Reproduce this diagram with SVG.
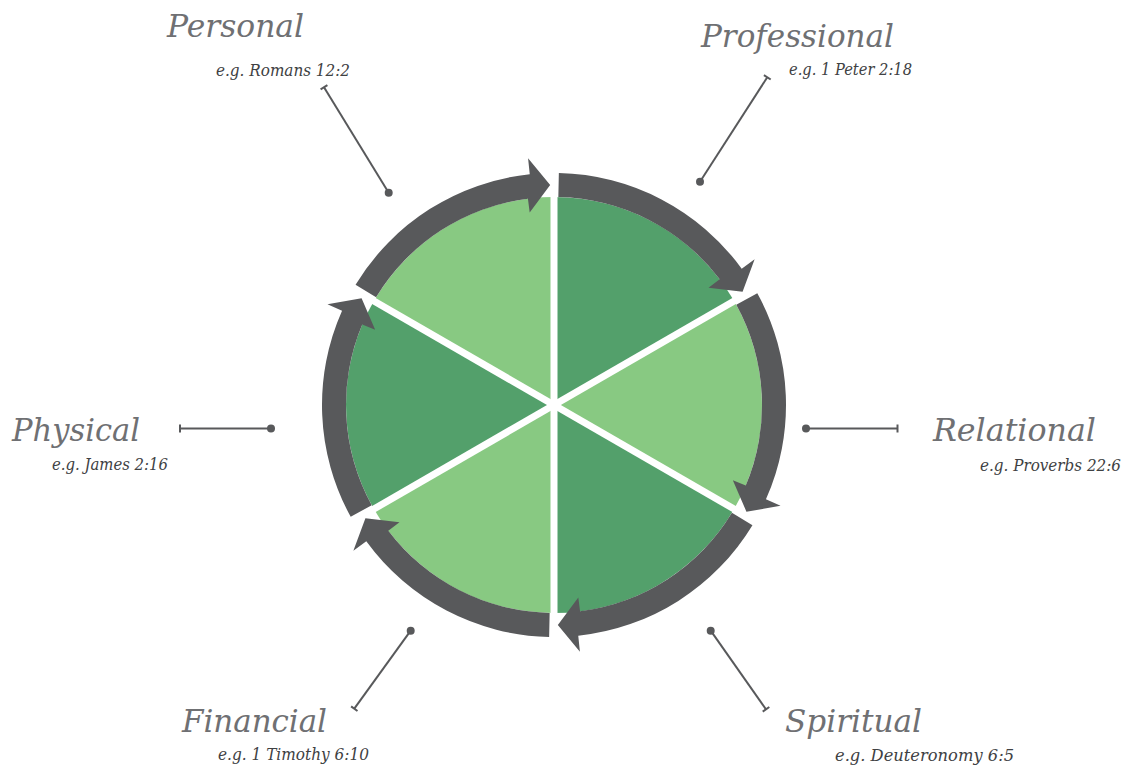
<svg xmlns="http://www.w3.org/2000/svg" xmlns:xlink="http://www.w3.org/1999/xlink" width="1130" height="765" viewBox="0 0 1130 765">
<style>
.light{fill:#88c982}
.dark{fill:#53a06b}
.ring{fill:#58595b}
.gap{stroke:#ffffff;stroke-width:7;stroke-linecap:butt}
.lead{stroke:#58595b;stroke-width:2;fill:none}
.dot{fill:#58595b}
.title{font-family:"DejaVu Serif","Liberation Serif",serif;font-style:italic;font-size:32px;fill:#6f7073}
.sub{font-family:"DejaVu Serif","Liberation Serif",serif;font-style:italic;font-size:17px;fill:#404143}
</style>
<defs>
<path id="sLight" d="M554 405 L554 197 A208 208 0 0 0 373.87 301 Z"/>
<path id="sDark" d="M554 405 L554 197 A208 208 0 0 1 734.13 301 Z"/>
<path id="arc" d="M355.55 284.82 A232 232 0 0 1 529.75 174.27 L528.08 158.36 L550.16 185.03 L529.69 212.53 L527.93 198.64 A208 208 0 0 0 376.08 297.26 Z"/>
</defs>
<rect width="1130" height="765" fill="#ffffff"/>
<g id="wheel">
<g id="sectors">
<use xlink:href="#sLight" class="light"/>
<use xlink:href="#sLight" class="light" transform="rotate(120 554 405)"/>
<use xlink:href="#sLight" class="light" transform="rotate(240 554 405)"/>
<use xlink:href="#sDark" class="dark"/>
<use xlink:href="#sDark" class="dark" transform="rotate(120 554 405)"/>
<use xlink:href="#sDark" class="dark" transform="rotate(240 554 405)"/>
</g>
<g id="gaps">
<line class="gap" x1="554" y1="195" x2="554" y2="615"/>
<line class="gap" x1="735.87" y1="300" x2="372.13" y2="510"/>
<line class="gap" x1="372.13" y1="300" x2="735.87" y2="510"/>
</g>
<g id="cycle-arrows">
<use xlink:href="#arc" class="ring"/>
<use xlink:href="#arc" class="ring" transform="rotate(60 554 405)"/>
<use xlink:href="#arc" class="ring" transform="rotate(120 554 405)"/>
<use xlink:href="#arc" class="ring" transform="rotate(180 554 405)"/>
<use xlink:href="#arc" class="ring" transform="rotate(240 554 405)"/>
<use xlink:href="#arc" class="ring" transform="rotate(300 554 405)"/>
</g>
</g>
<g id="connectors">
<line class="lead" x1="324" y1="87.3" x2="388.7" y2="192.7"/>
<line class="lead" x1="320.6" y1="89.4" x2="327.4" y2="85.2"/>
<circle class="dot" cx="388.7" cy="192.7" r="4"/>
<line class="lead" x1="767.3" y1="77.3" x2="700" y2="181.7"/>
<line class="lead" x1="763.9" y1="75.1" x2="770.7" y2="79.5"/>
<circle class="dot" cx="700" cy="181.7" r="4"/>
<line class="lead" x1="806" y1="428.5" x2="897.5" y2="428.5"/>
<line class="lead" x1="897.5" y1="424.5" x2="897.5" y2="432.5"/>
<circle class="dot" cx="806" cy="428.5" r="4"/>
<line class="lead" x1="180" y1="428.5" x2="271" y2="428.5"/>
<line class="lead" x1="180" y1="424.5" x2="180" y2="432.5"/>
<circle class="dot" cx="271" cy="428.5" r="4"/>
<line class="lead" x1="410.7" y1="630.7" x2="354.3" y2="708.7"/>
<line class="lead" x1="351.1" y1="706.4" x2="357.5" y2="711"/>
<circle class="dot" cx="410.7" cy="630.7" r="4"/>
<line class="lead" x1="710.7" y1="630.7" x2="766" y2="709.3"/>
<line class="lead" x1="762.7" y1="711.6" x2="769.3" y2="707"/>
<circle class="dot" cx="710.7" cy="630.7" r="4"/>
</g>
<g id="personal">
<text class="title" x="167" y="37" textLength="137" lengthAdjust="spacingAndGlyphs">Personal</text>
<text class="sub" x="216" y="76" textLength="134" lengthAdjust="spacingAndGlyphs">e.g. Romans 12:2</text>
</g>
<g id="professional">
<text class="title" x="701" y="47" textLength="193" lengthAdjust="spacingAndGlyphs">Professional</text>
<text class="sub" x="789" y="75" textLength="123" lengthAdjust="spacingAndGlyphs">e.g. 1 Peter 2:18</text>
</g>
<g id="relational">
<text class="title" x="933" y="441" textLength="163" lengthAdjust="spacingAndGlyphs">Relational</text>
<text class="sub" transform="translate(980 471) scale(0.82 1)" x="0" y="0" textLength="172" lengthAdjust="spacingAndGlyphs">e.g. Proverbs 22:6</text>
</g>
<g id="physical">
<text class="title" x="12" y="441" textLength="128" lengthAdjust="spacingAndGlyphs">Physical</text>
<text class="sub" x="52" y="470" textLength="116" lengthAdjust="spacingAndGlyphs">e.g. James 2:16</text>
</g>
<g id="financial">
<text class="title" x="182" y="732" textLength="145" lengthAdjust="spacingAndGlyphs">Financial</text>
<text class="sub" x="218" y="760" textLength="151" lengthAdjust="spacingAndGlyphs">e.g. 1 Timothy 6:10</text>
</g>
<g id="spiritual">
<text class="title" x="785" y="732" textLength="137" lengthAdjust="spacingAndGlyphs">Spiritual</text>
<text class="sub" x="835" y="761" textLength="179" lengthAdjust="spacingAndGlyphs">e.g. Deuteronomy 6:5</text>
</g>
</svg>
